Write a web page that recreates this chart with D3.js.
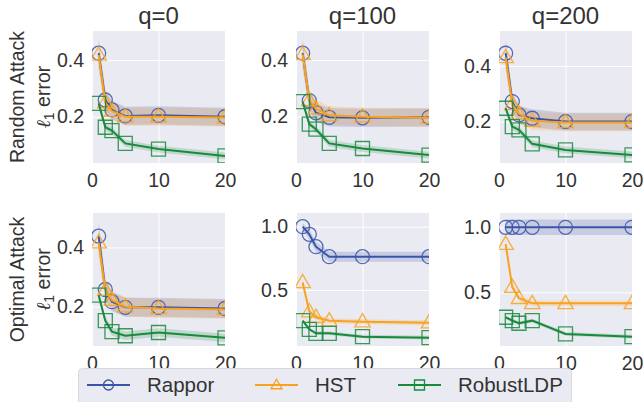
<!DOCTYPE html>
<html><head><meta charset="utf-8">
<script src="https://cdn.jsdelivr.net/npm/d3@7"></script>
<style>body{margin:0;background:#fff}svg{display:block}text{font-family:"Liberation Sans",Arial,sans-serif;fill:#333}</style>
</head><body><svg id="c" width="644" height="402"></svg>
<script>
const xs = [1, 2, 3, 5, 10, 20];
const seriesNames = ["Rappor", "HST", "RobustLDP"];
const colTitles = ["q=0", "q=100", "q=200"];
const rowLabels = ["Random Attack", "Optimal Attack"];
const xTicks = [0, 10, 20];
const yTicksTop = [0.2, 0.4];
const yTicksBottom = [[0.2, 0.4], [0.5, 1.0], [0.5, 1.0]];
const yDomainsTop = [[0.037, 0.502], [0.037, 0.502], [0.051, 0.526]];
const yDomainsBottom = [[0.0675, 0.516], [0.058, 1.108], [0.087, 1.11]];

// Random attack
const randRappor = [[0.424, 0.259, 0.224, 0.203, 0.205, 0.200], [0.424, 0.257, 0.214, 0.198, 0.196, 0.198], [0.446, 0.272, 0.224, 0.212, 0.200, 0.200]];
const randHST    = [[0.418, 0.250, 0.220, 0.200, 0.200, 0.197], [0.420, 0.258, 0.228, 0.205, 0.200, 0.196], [0.431, 0.262, 0.228, 0.202, 0.197, 0.197]];
const randRobust = [[0.247, 0.163, 0.151, 0.106, 0.086, 0.062], [0.253, 0.174, 0.156, 0.106, 0.088, 0.065], [0.248, 0.182, 0.170, 0.120, 0.098, 0.080]];
// Optimal attack
const optRappor = [[0.438, 0.258, 0.217, 0.198, 0.198, 0.194], [1.000, 0.940, 0.842, 0.763, 0.763, 0.763], [1.000, 1.000, 1.000, 1.000, 1.000, 1.000]];
const optHST    = [[0.416, 0.256, 0.222, 0.200, 0.194, 0.191], [0.560, 0.330, 0.285, 0.258, 0.250, 0.242], [0.870, 0.540, 0.454, 0.415, 0.415, 0.415]];
const optRobust = [[0.239, 0.153, 0.116, 0.102, 0.113, 0.095], [0.258, 0.190, 0.158, 0.158, 0.132, 0.124], [0.308, 0.282, 0.262, 0.282, 0.180, 0.159]];
// band half-widths
const randBand = [[0.05, 0.035, 0.032, 0.032, 0.032, 0.032], [0.05, 0.035, 0.032, 0.032, 0.032, 0.032], [0.05, 0.035, 0.032, 0.032, 0.032, 0.032]];
const randBandRobust = [0.012, 0.012, 0.012, 0.012, 0.012, 0.012];
const optBandRappor = [[0.05, 0.035, 0.032, 0.032, 0.032, 0.032], [0.03, 0.04, 0.04, 0.04, 0.04, 0.04], [0.06, 0.06, 0.06, 0.06, 0.06, 0.06]];
const optBandHST = [[0.05, 0.035, 0.032, 0.032, 0.032, 0.032], [0.03, 0.025, 0.022, 0.02, 0.02, 0.02], [0.03, 0.025, 0.022, 0.022, 0.022, 0.022]];
const optBandRobust = [0.014, 0.014, 0.014, 0.014, 0.014, 0.014];

const colors = ["#3a55a8", "#f9a21e", "#178a3c"];
const markers = ["circle", "triangle", "square"];

const svg = d3.select("#c");
const lefts = [92, 296, 499], W = 133;
const rows = [{top: 31, bottom: 163}, {top: 213, bottom: 346}];

function markerPath(type, s) {
  if (type === "circle") return d3.symbol(d3.symbolCircle, Math.PI * s * s)();
  if (type === "square") return `M${-s},${-s}H${s}V${s}H${-s}Z`;
  const h = s * 1.15;
  return `M0,${-h}L${s * 1.1},${h * 0.65}L${-s * 1.1},${h * 0.65}Z`;
}

let clipId = 0;
function panel(r, c, series, yDomain, yTicks) {
  const L = lefts[c], T = rows[r].top, B = rows[r].bottom;
  const x = d3.scaleLinear().domain([0, 20]).range([L, L + W]);
  const y = d3.scaleLinear().domain(yDomain).range([B, T]);
  const g = svg.append("g");
  g.append("rect").attr("x", L).attr("y", T).attr("width", W).attr("height", B - T).attr("fill", "#eaeaf2");
  const id = "clip" + (clipId++);
  g.append("clipPath").attr("id", id).append("rect").attr("x", L).attr("y", T).attr("width", W).attr("height", B - T);
  // grid
  const xa = d3.axisBottom(x).tickValues(xTicks).tickSize(-(B - T)).tickPadding(6).tickFormat(d3.format("d"));
  const gx = g.append("g").attr("transform", `translate(0,${B})`).call(xa);
  gx.select(".domain").remove();
  gx.selectAll("line").attr("stroke", "#fff").attr("stroke-width", 1);
  gx.selectAll("text").style("font-size", "19.5px").attr("fill", "#333").attr("dy", "0.75em").attr("y", 9);
  const ya = d3.axisLeft(y).tickValues(yTicks).tickSize(-W).tickPadding(8).tickFormat(d3.format(".1f"));
  const gy = g.append("g").attr("transform", `translate(${L},0)`).call(ya);
  gy.select(".domain").remove();
  gy.selectAll("line").attr("stroke", "#fff").attr("stroke-width", 1);
  gy.selectAll("text").style("font-size", "19.5px").attr("fill", "#333");
  const pg = g.append("g").attr("clip-path", `url(#${id})`);
  series.forEach((s, i) => {
    const pts = xs.map((xv, k) => ({x: xv, y: s.vals[k], b: s.band[k]}));
    pg.append("path").datum(pts)
      .attr("d", d3.area().x(d => x(d.x)).y0(d => y(d.y - d.b)).y1(d => y(d.y + d.b)).curve(d3.curveLinear))
      .attr("fill", colors[i]).attr("fill-opacity", 0.2);
  });
  series.forEach((s, i) => {
    const pts = xs.map((xv, k) => ({x: xv, y: s.vals[k]}));
    pg.append("path").datum(pts)
      .attr("d", d3.line().x(d => x(d.x)).y(d => y(d.y)))
      .attr("fill", "none").attr("stroke", colors[i]).attr("stroke-width", 2);
    pg.selectAll(null).data(pts).enter().append("path")
      .attr("transform", d => `translate(${x(d.x)},${y(d.y)})`)
      .attr("d", markerPath(markers[i], 7))
      .attr("fill", "none").attr("stroke", colors[i]).attr("stroke-width", 1.3).attr("stroke-opacity", 0.85);
  });
}

for (let c = 0; c < 3; c++) {
  panel(0, c, [
    {vals: randRappor[c], band: randBand[c]},
    {vals: randHST[c], band: randBand[c]},
    {vals: randRobust[c], band: randBandRobust}
  ], yDomainsTop[c], yTicksTop);
  panel(1, c, [
    {vals: optRappor[c], band: optBandRappor[c]},
    {vals: optHST[c], band: optBandHST[c]},
    {vals: optRobust[c], band: optBandRobust}
  ], yDomainsBottom[c], yTicksBottom[c]);
  svg.append("text").attr("x", lefts[c] + W / 2).attr("y", 24).attr("text-anchor", "middle")
    .style("font-size", "24px").text(colTitles[c]);
}

rowLabels.forEach((lab, r) => {
  const cy = (rows[r].top + rows[r].bottom) / 2;
  const t1 = svg.append("text").attr("transform", `translate(24,${cy}) rotate(-90)`).attr("text-anchor", "middle")
    .style("font-size", "19.5px").text(lab);
  const t2 = svg.append("text").attr("transform", `translate(50,${cy}) rotate(-90)`).attr("text-anchor", "middle")
    .style("font-size", "19.5px");
  t2.append("tspan").style("font-family", "'DejaVu Serif',serif").style("font-style", "italic").text("ℓ");
  t2.append("tspan").attr("dy", 4).style("font-size", "14px").text("1");
  t2.append("tspan").attr("dy", -4).text(" error");
});

// legend
const lg = svg.append("g");
lg.append("rect").attr("x", 78.5).attr("y", 368.5).attr("width", 493).attr("height", 40).attr("rx", 4)
  .attr("fill", "#eaeaf2").attr("stroke", "#d8d8e0").attr("stroke-width", 1);
const legX = [87, 255, 398];
seriesNames.forEach((n, i) => {
  const gx = legX[i], gy = 385;
  lg.append("line").attr("x1", gx).attr("x2", gx + 43).attr("y1", gy).attr("y2", gy).attr("stroke", colors[i]).attr("stroke-width", 2);
  lg.append("path").attr("transform", `translate(${gx + 21.5},${gy})`).attr("d", markerPath(markers[i], 5))
    .attr("fill", "none").attr("stroke", colors[i]).attr("stroke-width", 1.3);
  lg.append("text").attr("x", gx + 60).attr("y", gy + 7).style("font-size", "20.5px").text(n);
});
</script></body></html>
